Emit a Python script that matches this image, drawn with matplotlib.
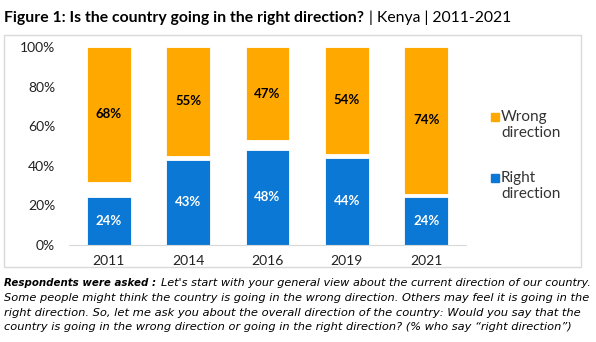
import matplotlib
matplotlib.use("Agg")
import matplotlib.pyplot as plt
from matplotlib.patches import Rectangle
import numpy as np

years = ["2011", "2014", "2016", "2019", "2021"]
right_dir = [24, 43, 48, 44, 24]
wrong_dir = [68, 55, 47, 54, 74]
yticks = [0, 20, 40, 60, 80, 100]

ORANGE = "#FFA900"
BLUE = "#0A78D4"
FONT = "Lato"
FFONT = "DejaVu Sans"
W, H = 596, 342

fig = plt.figure(figsize=(W / 100, H / 100), dpi=100)
fig.patch.set_facecolor("white")

def fx(px):
    return px / W

def fy(py):
    return 1 - py / H

# outer frame
fig.patches.append(Rectangle((fx(4), fy(267)), fx(581) - fx(4), fy(35) - fy(267),
                             transform=fig.transFigure, fill=False,
                             edgecolor="#D9D9D9", linewidth=1.0))

ax = fig.add_axes([fx(69), fy(245), fx(466) - fx(69), fy(47) - fy(245)])
x = np.arange(len(years))
r = np.array(right_dir) / 100
w = np.array(wrong_dir) / 100
ax.bar(x, r, width=0.55, color=BLUE, edgecolor="white", linewidth=0.6)
ax.bar(x, w, bottom=1 - w, width=0.55, color=ORANGE, edgecolor="white", linewidth=0.6)
for xi, rv, wv in zip(x, right_dir, wrong_dir):
    ax.text(xi, rv / 200, f"{rv}%", ha="center", va="center", color="white",
            fontsize=9.5, fontweight="bold", family=FONT)
    ax.text(xi, 1 - wv / 200, f"{wv}%", ha="center", va="center", color="black",
            fontsize=9.5, fontweight="bold", family=FONT)

ax.set_xlim(-0.5, len(years) - 0.5)
ax.set_ylim(0, 1)
ax.set_xticks(x)
ax.set_xticklabels(years, family=FONT, fontsize=10, color="#222222")
ax.set_yticks([v / 100 for v in yticks])
ax.set_yticklabels([f"{v}%" for v in yticks], family=FONT, fontsize=10, color="#222222")
ax.tick_params(axis="both", length=0)
ax.tick_params(axis="y", pad=10)
ax.tick_params(axis="x", pad=7)
for s in ["top", "left", "right"]:
    ax.spines[s].set_visible(False)
ax.spines["bottom"].set_color("#D9D9D9")
ax.set_facecolor("none")

# legend
for (label1, label2, col, ytop) in [("Wrong", "direction", ORANGE, 113), ("Right", "direction", BLUE, 174)]:
    fig.patches.append(Rectangle((fx(491), fy(ytop + 8)), fx(8), 8 / H,
                                 transform=fig.transFigure, color=col))
    fig.text(fx(501), fy(ytop + 4), label1, ha="left", va="center", family=FONT,
             fontsize=11, color="#333333")
    fig.text(fx(501), fy(ytop + 20), label2, ha="left", va="center", family=FONT,
             fontsize=11, color="#333333")

renderer = fig.canvas.get_renderer()

def fit_text(xpx, ypx, txt, target_w, family, weight="normal", style="normal", size=9):
    t = fig.text(fx(xpx), fy(ypx), txt, ha="left", va="center", family=family,
                 fontsize=size, fontweight=weight, fontstyle=style, color="black")
    bb = t.get_window_extent(renderer)
    t.set_fontsize(size * target_w / bb.width)
    return t

# title
fit_text(4, 18, "Figure 1: Is the country going in the right direction?", 358, FONT, weight="bold", size=10)
fit_text(369, 18, "| Kenya | 2011-2021", 142, FONT, size=10)

# footer
fit_text(4, 283, "Respondents were asked :", 153, FFONT, weight="bold", style="italic")
fit_text(161, 283,
         "Let's start with your general view about the current direction of our country.",
         432, FFONT, style="italic")
lines = [
    ("Some people might think the country is going in the wrong direction. Others may feel it is going in the", 585, 298),
    ("right direction. So, let me ask you about the overall direction of the country: Would you say that the", 577, 313),
    ("country is going in the wrong direction or going in the right direction? (% who say \u201cright direction\u201d)", 567, 327),
]
for txt, tw, yy in lines:
    fit_text(4, yy, txt, tw, FFONT, style="italic")

fig.savefig("out.png", dpi=100)
